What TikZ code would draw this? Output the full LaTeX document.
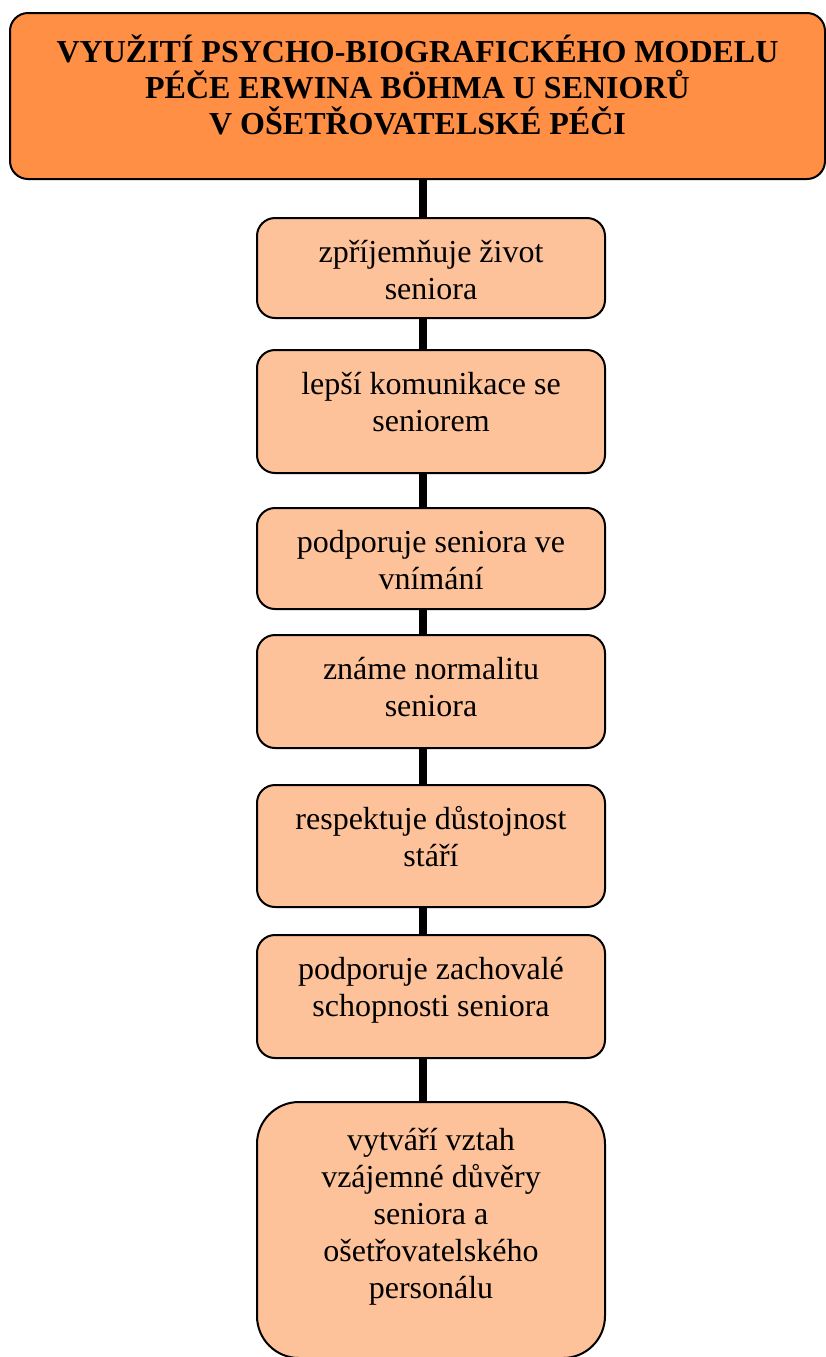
\documentclass[tikz,border=0pt]{standalone}
\usepackage{fontspec}
\setmainfont{Liberation Serif}
\usetikzlibrary{positioning}

\definecolor{titleorange}{RGB}{255,143,69}
\definecolor{steporange}{RGB}{253,194,154}

\begin{document}
\begin{tikzpicture}[
    titlebox/.style={draw, line width=1pt, rounded corners=9pt, fill=titleorange, outer sep=0pt, inner ysep=0pt,
        minimum width=407.5pt, align=center, font=\bfseries\fontsize{16}{18}\selectfont, text height=60.5pt},
    stepbox/.style={draw, line width=1pt, rounded corners=9pt, fill=steporange, outer sep=0pt, inner ysep=0pt,
        minimum width=174pt, align=center, font=\fontsize{16}{18.5}\selectfont, text height=40.5pt},
    link/.style={line width=4pt}
]
\useasboundingbox (0,0) rectangle (413pt,-678.5pt);

% Title
\node[titlebox, text depth=22.5pt] (title) at (208.75pt,-48pt)
    {VYUŽITÍ PSYCHO-BIOGRAFICKÉHO MODELU\\PÉČE ERWINA BÖHMA U SENIORŮ\\V OŠETŘOVATELSKÉ PÉČI};

% Steps
\node[stepbox, text depth=9.5pt, below=19.5pt of title, xshift=6.75pt] (life) {zpříjemňuje život\\seniora};
\node[stepbox, text depth=21pt, below=16pt of life] (comm) {lepší komunikace se\\seniorem};
\node[stepbox, text depth=10pt, below=17.5pt of comm] (percept) {podporuje seniora ve\\vnímání};
\node[stepbox, text depth=16pt, below=13pt of percept] (normal) {známe normalitu\\seniora};
\node[stepbox, text depth=20.5pt, below=18.5pt of normal] (dignity) {respektuje důstojnost\\stáří};
\node[stepbox, text depth=21pt, below=14pt of dignity] (abilities) {podporuje zachovalé\\schopnosti seniora};
\node[stepbox, rounded corners=21pt, text height=98pt, text depth=30pt, below=22pt of abilities] (trust)
    {vytváří vztah\\vzájemné důvěry\\seniora a\\ošetřovatelského\\personálu};

% Links
\coordinate (spine) at (211.5pt,0);
\draw[link] (title.south -| spine) -- (life.north -| spine);
\draw[link] (life.south -| spine) -- (comm.north -| spine);
\draw[link] (comm.south -| spine) -- (percept.north -| spine);
\draw[link] (percept.south -| spine) -- (normal.north -| spine);
\draw[link] (normal.south -| spine) -- (dignity.north -| spine);
\draw[link] (dignity.south -| spine) -- (abilities.north -| spine);
\draw[link] (abilities.south -| spine) -- (trust.north -| spine);

\end{tikzpicture}
\end{document}
